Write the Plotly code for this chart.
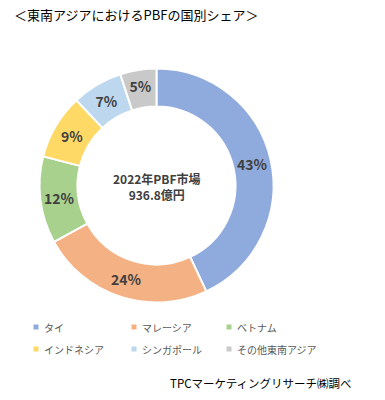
import plotly.graph_objects as go

categories = ["タイ", "マレーシア", "ベトナム", "インドネシア", "シンガポール", "その他東南アジア"]
shares = [43, 24, 12, 9, 7, 5]
colors = ["#8FAADC", "#F4B183", "#A9D18E", "#FFD966", "#BDD7EE", "#C9C9C9"]

W, H = 385, 400
FONT = "Noto Sans CJK JP"

fig = go.Figure()
fig.add_trace(go.Pie(
    labels=categories, values=shares, sort=False, direction="clockwise", rotation=0,
    hole=0.675,
    marker=dict(colors=colors, line=dict(color="white", width=2)),
    texttemplate="%{value}%", textposition="inside", insidetextorientation="horizontal",
    textfont=dict(family=FONT, size=14, color="#404040", weight="bold"),
    domain=dict(x=[39.5 / W, 273.5 / W], y=[1 - 303 / H, 1 - 68 / H]),
    showlegend=False, hoverinfo="skip",
))

annotations = [
    dict(text="＜東南アジアにおけるPBFの国別シェア＞", x=12 / W, y=1 - 15 / H, xanchor="left", yanchor="middle",
         showarrow=False, font=dict(family=FONT, size=13, color="#000000")),
    dict(text="<b>2022年PBF市場<br>936.8億円</b>", x=157 / W, y=1 - 186 / H, xanchor="center", yanchor="middle",
         showarrow=False, font=dict(family=FONT, size=12, color="#404040")),
    dict(text="TPCマーケティングリサーチ㈱調べ", x=354 / W, y=1 - 383 / H, xanchor="right", yanchor="middle",
         showarrow=False, font=dict(family=FONT, size=11.5, color="#000000")),
]
shapes = []
col_x = [36, 134, 229]
row_y = [327, 349]
for i, (cat, col) in enumerate(zip(categories, colors)):
    cx = col_x[i % 3]
    cy = row_y[i // 3]
    shapes.append(dict(type="rect", xref="paper", yref="paper",
                       x0=(cx - 2.5) / W, x1=(cx + 2.5) / W, y0=1 - (cy + 2.5) / H, y1=1 - (cy - 2.5) / H,
                       fillcolor=col, line=dict(width=0)))
    annotations.append(dict(text=cat, x=(cx + 6) / W, y=1 - cy / H, xanchor="left", yanchor="middle",
                            showarrow=False, font=dict(family=FONT, size=10, color="#595959")))

fig.update_layout(
    width=W, height=H, margin=dict(l=0, r=0, t=0, b=0),
    paper_bgcolor="white", plot_bgcolor="white",
    annotations=annotations, shapes=shapes,
)
fig.write_html("out.html", config={"displayModeBar": False},
               post_script="document.body.style.margin='0';")
